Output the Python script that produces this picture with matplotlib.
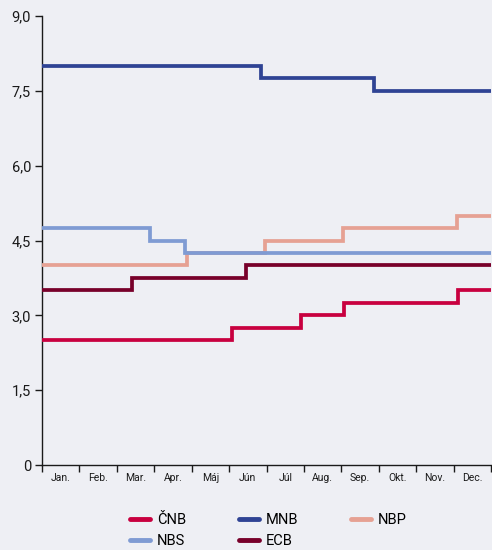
import matplotlib
matplotlib.use("Agg")
import matplotlib.pyplot as plt
from matplotlib.lines import Line2D

plt.rcParams['font.family'] = ['Liberation Sans Narrow', 'Roboto', 'DejaVu Sans']

# months (x in month units, 0 = start of January, 12 = end of December)
months = ["Jan.", "Feb.", "Mar.", "Apr.", "Máj", "Jún", "Júl", "Aug.", "Sep.", "Okt.", "Nov.", "Dec."]

# policy rate changes: (month position, rate)
cnb_x = [0, 5.08, 6.93, 8.07, 11.12, 12]
cnb_y = [2.50, 2.75, 3.00, 3.25, 3.50, 3.50]

mnb_x = [0, 5.86, 8.88, 12]
mnb_y = [8.00, 7.75, 7.50, 7.50]

nbp_x = [0, 3.87, 5.96, 8.05, 11.10, 12]
nbp_y = [4.00, 4.25, 4.50, 4.75, 5.00, 5.00]

nbs_x = [0, 2.89, 3.82, 12]
nbs_y = [4.75, 4.50, 4.25, 4.25]

ecb_x = [0, 2.40, 5.45, 12]
ecb_y = [3.50, 3.75, 4.00, 4.00]

yticks = [0, 1.5, 3.0, 4.5, 6.0, 7.5, 9.0]
ytick_labels = ["0", "1,5", "3,0", "4,5", "6,0", "7,5", "9,0"]

series = {
    "ČNB": (cnb_x, cnb_y, "#c8003f"),
    "MNB": (mnb_x, mnb_y, "#2f4394"),
    "NBP": (nbp_x, nbp_y, "#e6a193"),
    "NBS": (nbs_x, nbs_y, "#7f9bd3"),
    "ECB": (ecb_x, ecb_y, "#78002a"),
}

bg = "#eeeff4"
fig = plt.figure(figsize=(4.92, 5.5), dpi=100, facecolor=bg)
ax = fig.add_axes([0.0854, 0.1545, 0.9126, 0.8164], facecolor=bg)

for name in ["NBP", "NBS", "MNB", "ECB", "ČNB"]:
    xs, ys, col = series[name]
    ax.plot(xs, ys, drawstyle="steps-post", color=col, lw=2.7,
            solid_joinstyle="miter", zorder=3)

ax.set_xlim(0, 12)
ax.set_ylim(0, 9)

for s in ["top", "right"]:
    ax.spines[s].set_visible(False)
for s in ["left", "bottom"]:
    ax.spines[s].set_color("#1a1a1a")
    ax.spines[s].set_linewidth(1.0)

ax.set_yticks(yticks)
ax.set_yticklabels(ytick_labels, fontsize=10.5, color="#1a1a1a")
ax.tick_params(axis="y", direction="out", length=5, width=1, pad=3, colors="#1a1a1a")

ax.set_xticks(range(13))
ax.set_xticklabels([])
ax.tick_params(axis="x", which="major", direction="out", length=5, width=1, colors="#1a1a1a")
ax.set_xticks([i + 0.5 for i in range(12)], minor=True)
ax.set_xticklabels(months, minor=True, fontsize=7.5, color="#1a1a1a")
ax.tick_params(axis="x", which="minor", length=0, pad=6)

# legend filled column by column, so order gives rows ČNB/MNB/NBP and NBS/ECB
legend_order = ["ČNB", "NBS", "MNB", "ECB", "NBP"]
handles = [Line2D([0], [0], color=series[n][2], lw=3.5, solid_capstyle="round")
           for n in legend_order]
fig.legend(handles, legend_order, loc="center", bbox_to_anchor=(0.545, 0.035), ncol=3,
           frameon=False, fontsize=10.5, handlelength=1.4, columnspacing=3.6,
           handletextpad=0.45, labelspacing=0.45)

fig.savefig("out.png", dpi=100, facecolor=bg)
